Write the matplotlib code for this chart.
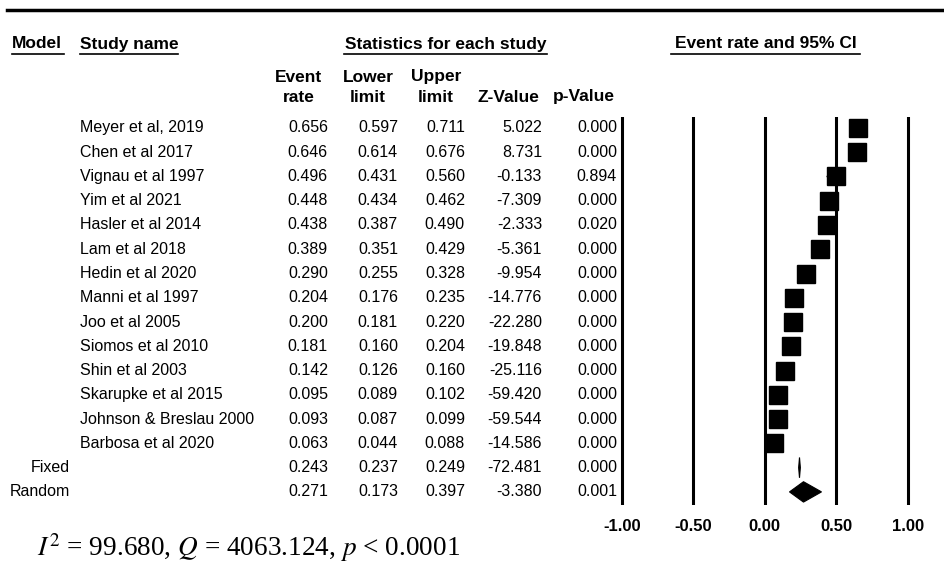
import matplotlib
matplotlib.use('Agg')
import matplotlib.pyplot as plt
import matplotlib.transforms as mtransforms
from matplotlib.lines import Line2D
from matplotlib.patches import Polygon
import numpy as np

plt.rcParams['font.family'] = ['Liberation Sans', 'DejaVu Sans']
plt.rcParams['mathtext.fontset'] = 'stix'

# data
studies = ['Meyer et al, 2019', 'Chen et al 2017', 'Vignau et al 1997', 'Yim et al 2021',
           'Hasler et al 2014', 'Lam et al 2018', 'Hedin et al 2020', 'Manni et al 1997',
           'Joo et al 2005', 'Siomos et al 2010', 'Shin et al 2003', 'Skarupke et al 2015',
           'Johnson & Breslau 2000', 'Barbosa et al 2020']
event = [0.656, 0.646, 0.496, 0.448, 0.438, 0.389, 0.290, 0.204, 0.200, 0.181, 0.142, 0.095, 0.093, 0.063]
lower = [0.597, 0.614, 0.431, 0.434, 0.387, 0.351, 0.255, 0.176, 0.181, 0.160, 0.126, 0.089, 0.087, 0.044]
upper = [0.711, 0.676, 0.560, 0.462, 0.490, 0.429, 0.328, 0.235, 0.220, 0.204, 0.160, 0.102, 0.099, 0.088]
zval = [5.022, 8.731, -0.133, -7.309, -2.333, -5.361, -9.954, -14.776, -22.280, -19.848, -25.116,
        -59.420, -59.544, -14.586]
pval = [0.000, 0.000, 0.894, 0.000, 0.020, 0.000, 0.000, 0.000, 0.000, 0.000, 0.000, 0.000, 0.000, 0.000]

models = ['Fixed', 'Random']
m_event = [0.243, 0.271]
m_lower = [0.237, 0.173]
m_upper = [0.249, 0.397]
m_z = [-72.481, -3.380]
m_p = [0.000, 0.001]

ticks = [-1.0, -0.5, 0.0, 0.5, 1.0]
stat_text = r'$I^2$ = 99.680, $Q$ = 4063.124, $p$ < 0.0001'

W, H = 945, 568
fig = plt.figure(figsize=(9.45, 5.68), dpi=100)

def fx(px):
    return px / W

def fy(py):
    return 1 - py / H

unit = 142.8  # pixels per unit on the forest axis
fax = fig.add_axes([fx(622 - 0.1 * unit), fy(505), 2.2 * unit / W, 388 / H])
fax.set_xlim(-1.1, 1.1)
fax.set_ylim(15.54, -0.45)
for s in fax.spines.values():
    s.set_visible(False)
fax.set_yticks([])
fax.set_xticks(ticks)
fax.set_xticklabels(['%.2f' % t for t in ticks], fontweight='bold', fontsize=12)
fax.tick_params(axis='x', length=0, pad=10)
for t in ticks:
    fax.axvline(t, color='black', lw=2.2, zorder=1)

rows = np.arange(len(studies))
fax.hlines(rows, lower, upper, color='black', lw=1, zorder=2)
fax.plot(event, rows, 's', color='black', ms=13, zorder=3)

for k in range(len(models)):
    y = len(studies) + k
    fax.add_patch(Polygon([[m_lower[k], y], [m_event[k], y - 0.42], [m_upper[k], y], [m_event[k], y + 0.42]],
                          closed=True, fc='black', ec='black', lw=0.8, zorder=3))

# table text
trans = mtransforms.blended_transform_factory(fig.transFigure, fax.transData)
fs = 11.5
hfs = 12.5
cols_right = [328, 398, 465, 542, 617]

def row_text(y, vals):
    for x, v in zip(cols_right, vals):
        fig.text(fx(x), y, '%.3f' % v, transform=trans, ha='right', va='center', fontsize=fs)

for i, name in enumerate(studies):
    fig.text(fx(80), i, name, transform=trans, ha='left', va='center', fontsize=fs)
    row_text(i, [event[i], lower[i], upper[i], zval[i], pval[i]])

for k, m in enumerate(models):
    y = len(studies) + k
    fig.text(fx(70), y, m, transform=trans, ha='right', va='center', fontsize=fs)
    row_text(y, [m_event[k], m_lower[k], m_upper[k], m_z[k], m_p[k]])

# headers
fig.add_artist(Line2D([fx(7), 1], [fy(10), fy(10)], color='black', lw=2.5, transform=fig.transFigure))

heads = [('Model', 12, 64, 'left'), ('Study name', 80, 178, 'left'),
         ('Statistics for each study', 344, 547, 'center'), ('Event rate and 95% CI', 671, 860, 'center')]
for txt, x0, x1, ha in heads:
    xt = x0 if ha == 'left' else (x0 + x1) / 2
    fig.text(fx(xt), fy(44), txt, ha=ha, va='center', fontsize=hfs, fontweight='bold')
    fig.add_artist(Line2D([fx(x0), fx(x1)], [fy(54), fy(54)], color='black', lw=1.2,
                          transform=fig.transFigure))

sub = [('Event', 'rate', 299), ('Lower', 'limit', 368), ('Upper', 'limit', 436),
       ('', 'Z-Value', 508), ('', 'p-Value', 584)]
for top, bot, x in sub:
    if top:
        fig.text(fx(x), fy(77), top, ha='center', va='center', fontsize=hfs, fontweight='bold')
    fig.text(fx(x), fy(97), bot, ha='center', va='center', fontsize=hfs, fontweight='bold')

fig.text(fx(37), fy(548), stat_text, ha='left', va='center', fontsize=19.6, family='Liberation Serif')

fig.savefig('out.png', dpi=100)
